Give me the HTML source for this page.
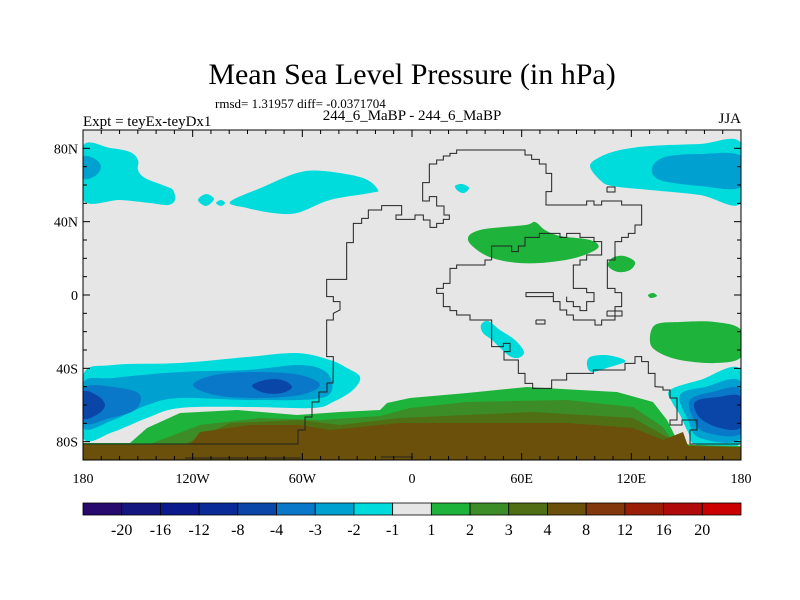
<!DOCTYPE html>
<html><head><meta charset="utf-8"><style>
html,body{margin:0;padding:0;background:#fff;}
svg{display:block;font-family:"Liberation Serif",serif;}
</style></head><body>
<svg id="chart" width="800" height="600" viewBox="0 0 800 600" xmlns="http://www.w3.org/2000/svg">
<defs><clipPath id="mapclip"><rect x="83" y="130" width="658" height="330"/></clipPath></defs>
<text x="412" y="84" font-size="30" text-anchor="middle">Mean Sea Level Pressure (in hPa)</text>
<text x="215" y="108" font-size="13">rmsd= 1.31957 diff= -0.0371704</text>
<text x="412" y="120" font-size="15" text-anchor="middle">244_6_MaBP - 244_6_MaBP</text>
<text x="83" y="126" font-size="15">Expt = teyEx-teyDx1</text>
<text x="741" y="123" font-size="15" text-anchor="end">JJA</text>
<g id="map" clip-path="url(#mapclip)"></g>
<g id="coast" fill="none" stroke="#222" stroke-width="1"></g>
<rect x="83" y="130" width="658" height="330" fill="none" stroke="#000" stroke-width="1"/>
<g id="ticks" stroke="#000" stroke-width="1"></g>
<g id="labels" font-size="14"></g>
<g id="colorbar"></g>
</svg>
<script>
// colour levels
const levelLabels = ['-20','-16','-12','-8','-4','-3','-2','-1','1','2','3','4','8','12','16','20'];
const levelColors = ['#280a6e','#141680','#0a1a8c','#0a2a98','#0a46a8','#0a78c8','#00a0d0','#00dcdc','#e6e6e6','#1eb43c','#3c8c28','#506e14','#6a500a','#82380a','#9a1e06','#b00a0a','#cc0000'];
const lonTicks = [-180,-120,-60,0,60,120,180];
const lonLabels = ['180','120W','60W','0','60E','120E','180'];
const latTicks = [80,40,0,-40,-80];
const latLabels = ['80N','40N','0','40S','80S'];

// contour regions (map pixel outlines) with anomaly level
const regionLevels = ['-1','-2','-1','-1','-2','-1','-1','-1','2','2','2','2','-1','-1','-1','-2','-3','-3','-4','-4','-1','-2','-3','-4','2','3','4'];
const regions = [
 [[83,146],[110,148],[130,152],[138,160],[138,170],[145,178],[165,186],[173,190],[175,200],[168,205],[150,203],[120,200],[83,200]],
 [[83,157],[95,159],[101,167],[95,176],[83,178]],
 [[230,202],[263,187],[297,173],[323,171],[363,178],[378,190],[370,193],[330,200],[297,213],[273,213],[247,208]],
 [[590,166],[600,157],[620,150],[650,146],[700,144],[741,143],[741,203],[700,195],[650,190],[612,186],[600,180]],
 [[652,168],[665,157],[700,154],[741,156],[741,187],[700,186],[660,180]],
 [[198,200],[206,194],[214,199],[206,206]],
 [[216,203],[221,200],[225,203],[221,206]],
 [[455,186],[462,184],[469,188],[464,193],[458,191]],
 [[650,342],[655,325],[680,322],[715,322],[741,330],[741,357],[715,363],[680,360],[658,352]],
 [[468,240],[480,230],[525,225],[535,222],[545,230],[560,236],[590,240],[598,248],[575,258],[540,263],[510,262],[485,255]],
 [[608,266],[612,258],[624,256],[635,262],[630,270],[618,272]],
 [[648,295],[653,293],[657,296],[651,298]],
 [[481,325],[488,321],[500,330],[515,340],[524,352],[518,358],[508,355],[492,340],[483,333]],
 [[587,365],[590,357],[605,355],[620,358],[625,362],[610,367],[592,372]],
 [[83,375],[113,365],[180,363],[247,357],[297,353],[330,360],[347,368],[360,377],[353,390],[333,402],[313,408],[247,407],[180,408],[147,418],[113,432],[83,438]],
 [[83,383],[113,378],[180,372],[247,370],[300,365],[326,372],[332,390],[315,399],[250,400],[180,398],[147,405],[113,420],[83,428]],
 [[83,388],[120,388],[140,395],[135,410],[110,418],[83,423]],
 [[193,385],[215,375],[257,372],[300,375],[320,385],[300,395],[257,398],[215,395]],
 [[83,392],[98,396],[105,405],[98,414],[83,418]],
 [[252,386],[265,380],[282,380],[292,387],[282,393],[265,393]],
 [[670,390],[700,380],[741,370],[741,442],[697,445],[688,432],[680,415],[672,402]],
 [[680,395],[705,387],[741,382],[741,438],[700,438],[688,420]],
 [[690,400],[712,392],[741,390],[741,433],[705,432],[693,418]],
 [[695,402],[718,397],[741,397],[741,427],[720,428],[700,418]],
 [[83,443],[130,443],[147,428],[180,413],[237,410],[297,415],[340,412],[380,410],[387,403],[410,398],[467,393],[527,387],[580,390],[617,392],[653,402],[667,420],[677,440],[690,445],[741,446],[741,461],[83,461]],
 [[150,444],[200,425],[260,418],[320,420],[380,416],[410,408],[467,402],[567,400],[633,407],[663,427],[675,444],[741,447],[741,461],[83,461],[83,444]],
 [[185,444],[230,423],[300,420],[340,425],[400,418],[533,412],[633,418],[667,437],[680,446],[741,447],[741,461],[83,461],[83,444]]
];
const brownTop = [[83,445],[190,445],[200,432],[250,425],[300,425],[330,430],[400,423],[567,423],[633,428],[663,440],[683,432],[688,446],[741,447],[741,461],[83,461]];

const X0=83,X1=741,Y0=130,Y1=460;
const xLon = lon => X0 + (lon+180)/360*(X1-X0);
const yLat = lat => Y0 + (90-lat)/180*(Y1-Y0);
const NS='http://www.w3.org/2000/svg';
function mk(tag, attrs, parent){const e=document.createElementNS(NS,tag);for(const k in attrs)e.setAttribute(k,attrs[k]);parent.appendChild(e);return e;}
function colorFor(lbl){return levelColors[levelLabels.indexOf(lbl)];}
function smooth(p, closed){
 if(!closed) return 'M'+p.map(q=>q.join(',')).join('L');
 const n=p.length;let d='M'+p[0][0]+','+p[0][1];
 for(let i=0;i<n;i++){const p0=p[(i-1+n)%n],p1=p[i],p2=p[(i+1)%n],p3=p[(i+2)%n];
  const c1=[p1[0]+(p2[0]-p0[0])/6,p1[1]+(p2[1]-p0[1])/6],c2=[p2[0]-(p3[0]-p1[0])/6,p2[1]-(p3[1]-p1[1])/6];
  d+='C'+c1.join(',')+' '+c2.join(',')+' '+p2.join(',');}
 return d+'Z';}
const map=document.getElementById('map');
const bg=mk('rect',{x:83,y:130,width:658,height:330,fill:'#e6e6e6'},map);


regions.forEach((r,i)=>{
 if(i>=24) return;
 const el=mk('path',{d:smooth(r,true),fill:colorFor(regionLevels[i])},map);
 
 
});
[24,25,26].forEach(i=>{
 const el=mk('path',{d:smooth(regions[i],false)+'Z',fill:colorFor(regionLevels[i])},map);
 
 
});
const br=mk('path',{d:smooth(brownTop,false)+'Z',fill:colorFor('8')},map);



// coastlines
const z=p=>[300+p[0]/3,140+p[1]/3];
const coastA=[[83,444],[298,444],[298,430],[305,430],[305,417],[312,417],[312,402],[319,402],[319,392],[327,392],[327,383],[333,383]].concat(
 [[100,650],[80,650],[80,540],[100,540],[100,520],[120,510],[120,485],[100,485],[100,470],[80,470],[80,418],[140,418],[140,308],[160,308],[160,250],[185,250],[185,235],[205,235],[205,210],[245,210],[245,197],[305,197],[305,225],[288,225],[288,238],[345,238],[345,225],[370,225],[370,240],[390,240],[390,262],[410,262],[410,250],[430,250],[430,238],[448,238],[448,225],[432,225],[432,198],[410,198],[410,170],[388,170],[388,183],[368,183],[368,128],[388,128],[388,72],[410,72],[410,60],[430,60],[430,48],[450,48],[450,40],[470,40],[470,30],[675,30],[675,45],[695,45],[695,58],[718,58],[718,72],[738,72],[738,100],[755,100],[755,155],[738,155],[738,195],[860,195],[860,183],[882,183],[882,195],[905,195],[905,183],[965,183],[965,195],[1025,195],[1025,255],[1005,255],[1005,280],[985,280],[985,292],[965,292],[965,305],[945,305],[945,360],[922,360],[922,445],[945,445],[945,458],[965,458],[965,500],[945,500],[945,540],[905,540],[905,555],[885,555],[885,540],[820,540],[820,525],[800,525],[800,510],[780,510],[780,485],[760,485],[760,458],[678,458],[678,470],[760,470]].map(z));
const coastB=[[575,360],[575,318],[635,318],[635,335],[655,335],[655,318],[675,318],[675,292],[718,292],[718,280],[780,280],[780,292],[800,292],[800,280],[840,280],[840,292],[882,292],[882,305],[905,305],[905,345],[860,345],[860,360],[840,360],[840,375],[820,375],[820,445],[860,445],[860,458],[882,458],[882,485],[860,485],[860,512],[840,512],[840,500],[820,500],[820,485],[800,485],[800,470]].map(z);
const coastC=[[575,360],[555,360],[555,375],[470,375],[470,385],[450,385],[450,430],[430,430],[430,445],[410,445],[410,460],[430,460],[430,500],[450,500],[450,512],[470,512],[470,525],[510,525],[510,540],[575,540],[575,620],[610,620],[610,610],[630,610],[630,635],[612,635],[612,660],[655,660],[655,700],[675,700],[675,730],[698,730],[698,745],[755,745],[755,720],[800,720],[800,700],[880,700],[880,690],[975,690],[975,670],[1005,670],[1005,650],[1025,650],[1025,665],[1045,665],[1045,700],[1065,700],[1065,740]].map(z).concat(
 [[660,387],[663,387],[663,390],[670,390],[670,398],[677,398],[677,420],[670,420],[670,425],[682,425],[682,420],[697,420],[697,430],[690,430],[690,444],[741,444]]);
const coastBits=[coastA,coastB,coastC,[[185,458],[301,458]],[[381,457],[413,457]],[[607,187],[615,187],[615,192],[607,192],[607,187]],[[607,311],[622,311],[622,316],[607,316],[607,311]],[[536,320],[545,320],[545,324],[536,324],[536,320]]];
const coast=document.getElementById('coast');
coastBits.forEach((c,i)=>{
 const el=mk('path',{d:'M'+c.map(q=>q.join(',')).join('L')},coast);
 
 
});

// ticks
const tk=document.getElementById('ticks');
for(let lon=-180;lon<=180;lon+=10){const x=xLon(lon),L=(lon%60===0)?7:4;
 mk('line',{x1:x,y1:Y0,x2:x,y2:Y0+L},tk);mk('line',{x1:x,y1:Y1,x2:x,y2:Y1-L},tk);}
for(let lat=-80;lat<=80;lat+=10){const y=yLat(lat),L=(lat%40===0)?7:4;
 mk('line',{x1:X0,y1:y,x2:X0+L,y2:y},tk);mk('line',{x1:X1,y1:y,x2:X1-L,y2:y},tk);}
const lb=document.getElementById('labels');
lonTicks.forEach((v,i)=>{const t=mk('text',{x:xLon(v),y:483,'text-anchor':'middle'},lb);t.textContent=lonLabels[i];
 
 });
latTicks.forEach((v,i)=>{const t=mk('text',{x:78,y:yLat(v)+5,'text-anchor':'end'},lb);t.textContent=latLabels[i];
 
 });

// colorbar
const cb=document.getElementById('colorbar');const bw=(X1-X0)/levelColors.length;
levelColors.forEach((c,i)=>{const r=mk('rect',{x:X0+i*bw,y:503,width:bw,height:12,fill:c,stroke:'#000','stroke-width':0.8},cb);
 
 });
levelLabels.forEach((l,i)=>{const t=mk('text',{x:X0+(i+1)*bw,y:535,'text-anchor':'middle','font-size':16},cb);t.textContent=l;
 
 });
</script>
</body></html>
